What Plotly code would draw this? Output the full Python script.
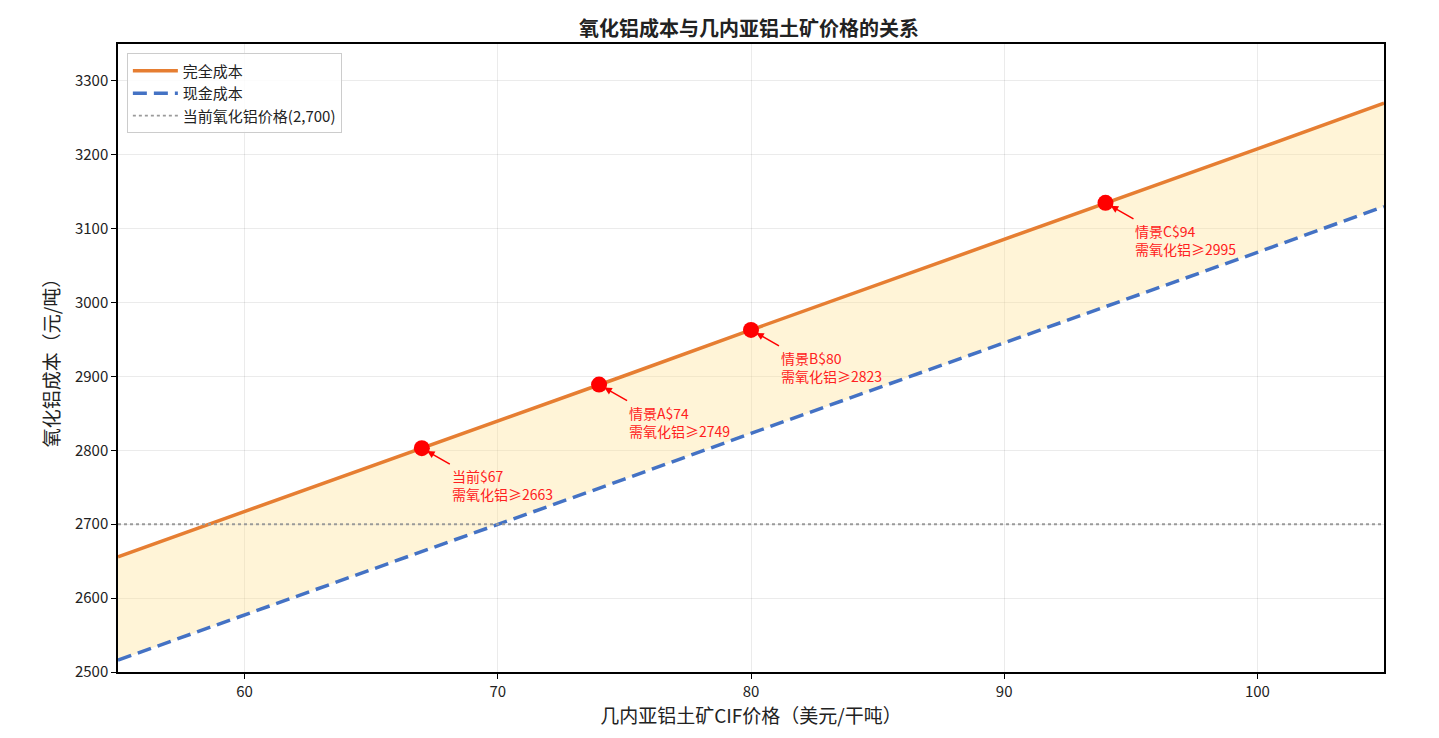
import plotly.graph_objects as go

# bauxite CIF price (USD/t) and alumina cost (CNY/t)
bauxite_price = [55, 60, 65, 70, 75, 80, 85, 90, 95, 100, 105]
full_cost = [2656, 2717, 2778, 2840, 2901, 2963, 3024, 3085, 3147, 3208, 3270]
cash_cost = [2516, 2577, 2638, 2700, 2761, 2823, 2884, 2945, 3007, 3068, 3130]

current_alumina = 2700

scenario_x = [67, 74, 80, 94]
scenario_y = [2803, 2889, 2963, 3135]
scenario_name = ["当前", "情景A", "情景B", "情景C"]
scenario_need = [2663, 2749, 2823, 2995]

font_cn = "Noto Sans CJK SC"

fig = go.Figure()

# shaded band between cash cost and full cost
fig.add_trace(go.Scatter(x=bauxite_price, y=cash_cost, mode="lines",
                         line=dict(width=0), showlegend=False, hoverinfo="skip"))
fig.add_trace(go.Scatter(x=bauxite_price, y=full_cost, mode="lines",
                         line=dict(width=0), fill="tonexty",
                         fillcolor="rgba(255,226,150,0.38)",
                         showlegend=False, hoverinfo="skip"))

fig.add_trace(go.Scatter(x=bauxite_price, y=full_cost, mode="lines", name="完全成本",
                         line=dict(color="#E67E32", width=3.5)))
fig.add_trace(go.Scatter(x=bauxite_price, y=cash_cost, mode="lines", name="现金成本",
                         line=dict(color="#4472C4", width=3.5, dash="14px,7px")))
fig.add_trace(go.Scatter(x=[bauxite_price[0], bauxite_price[-1]],
                         y=[current_alumina, current_alumina], mode="lines",
                         name="当前氧化铝价格(2,700)",
                         line=dict(color="#9a9a9a", width=1.8, dash="dot")))

fig.add_trace(go.Scatter(x=scenario_x, y=scenario_y, mode="markers", showlegend=False,
                         marker=dict(color="#FF0000", size=16)))

for sx, sy, nm, need in zip(scenario_x, scenario_y, scenario_name, scenario_need):
    fig.add_annotation(x=sx, y=sy, ax=28, ay=16,
                       text=nm + "$" + str(sx) + "<br>需氧化铝≥" + str(need),
                       xanchor="left", yanchor="top", align="left",
                       showarrow=True, arrowhead=2, arrowsize=1, arrowwidth=1.5,
                       arrowcolor="#FF0000", standoff=6,
                       font=dict(color="#FF2020", size=14, family=font_cn))

fig.update_xaxes(range=[55, 105], tickvals=[60, 70, 80, 90, 100],
                 showline=True, linewidth=1.5, linecolor="black", mirror=True,
                 ticks="outside", ticklen=5, tickcolor="black",
                 showgrid=True, gridcolor="rgba(0,0,0,0.08)", zeroline=False,
                 tickfont=dict(size=15, color="#222"),
                 title=dict(text="几内亚铝土矿CIF价格（美元/干吨）", font=dict(size=19, color="#222"),
                            standoff=8))
fig.update_yaxes(range=[2500, 3350], tickvals=list(range(2500, 3301, 100)),
                 showline=True, linewidth=1.5, linecolor="black", mirror=True,
                 ticks="outside", ticklen=5, tickcolor="black",
                 showgrid=True, gridcolor="rgba(0,0,0,0.08)", zeroline=False,
                 tickfont=dict(size=15, color="#222"),
                 title=dict(text="氧化铝成本（元/吨）", font=dict(size=19, color="#222"),
                            standoff=10))

fig.update_layout(
    width=1439, height=738,
    margin=dict(l=110, r=63, t=36, b=74),
    plot_bgcolor="white", paper_bgcolor="white",
    font=dict(family=font_cn),
    title=dict(text="<b>氧化铝成本与几内亚铝土矿价格的关系</b>", x=0.515, xanchor="center",
               y=0.972, yanchor="middle", font=dict(size=20, color="#222")),
    legend=dict(x=0.007, y=0.985, xanchor="left", yanchor="top", traceorder="normal",
                itemwidth=45, tracegroupgap=2,
                bgcolor="rgba(255,255,255,0.85)", bordercolor="#cccccc", borderwidth=1,
                font=dict(size=15, color="#222")),
    showlegend=True,
)

fig.write_html("out.html")
